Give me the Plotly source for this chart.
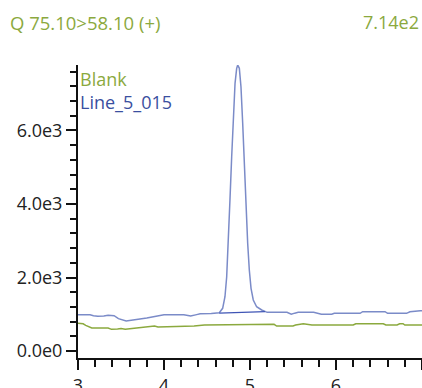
import plotly.graph_objects as go

# Sample trace (Line_5_015)
sample_t = [3.00, 3.14, 3.18, 3.23, 3.30, 3.35, 3.42, 3.47, 3.56, 3.62, 3.70, 3.80, 3.89, 3.95,
            4.00, 4.23, 4.27, 4.31, 4.38, 4.42, 4.55, 4.62, 4.643, 4.682, 4.709, 4.729, 4.748,
            4.767, 4.787, 4.806, 4.826, 4.845, 4.857, 4.876, 4.895, 4.915, 4.934, 4.953, 4.973,
            4.992, 5.012, 5.038, 5.077, 5.136, 5.174, 5.20, 5.43, 5.48, 5.52, 5.56, 5.74, 5.78,
            5.83, 5.95, 5.98, 6.28, 6.31, 6.57, 6.60, 6.82, 6.86, 6.98, 7.00]
sample_v = [988, 988, 960, 944, 950, 971, 960, 880, 816, 830, 863, 900, 944, 975,
            988, 988, 960, 950, 990, 1015, 1020, 1026, 1042, 1162, 1478, 2022, 2931,
            4109, 5287, 6468, 7284, 7692, 7782, 7692, 7192, 6196, 5015, 3926, 2931,
            2204, 1706, 1388, 1205, 1116, 1088, 1053, 1053, 999, 1030, 1053, 1053, 1020,
            999, 999, 1026, 1026, 1069, 1069, 1026, 1026, 1069, 1097, 1097]

# Integration baseline under the peak
base_t = [4.643, 5.174]
base_v = [1030, 1070]

# Blank trace
blank_t = [3.00, 3.06, 3.09, 3.16, 3.35, 3.39, 3.46, 3.50, 3.55, 3.70, 3.86, 3.89, 3.93, 4.05,
           4.31, 4.35, 4.47, 4.55, 4.86, 5.28, 5.31, 5.50, 5.53, 5.62, 5.72, 6.20, 6.23, 6.55,
           6.58, 6.71, 6.74, 6.78, 6.80, 7.00]
blank_v = [754, 740, 699, 626, 626, 590, 600, 610, 590, 626, 653, 680, 653, 661,
           665, 680, 707, 710, 727, 727, 680, 680, 707, 743, 707, 707, 743, 743,
           707, 707, 743, 743, 707, 707]

y_tickvals = [0, 2000, 4000, 6000]
y_ticktext = ["0.0e0", "2.0e3", "4.0e3", "6.0e3"]
x_tickvals = [3, 4, 5, 6, 7]

GREEN = "#8BA93E"
BLUE_TXT = "#3A4FA0"
BLUE_LINE = "#7B8BC8"
FONT = "Open Sans"

W, H = 422, 388
ML, MR, MT, MB = 78, 0, 65, 30
PW, PH = W - ML - MR, H - MT - MB

def px(x):
    return (x - ML) / PW

def py(y):
    return (H - MB - y) / PH

fig = go.Figure()
fig.add_trace(go.Scatter(x=blank_t, y=blank_v, mode="lines",
                         line=dict(color=GREEN, width=1.5), hoverinfo="skip"))
fig.add_trace(go.Scatter(x=sample_t, y=sample_v, mode="lines",
                         line=dict(color=BLUE_LINE, width=1.5), hoverinfo="skip"))
fig.add_trace(go.Scatter(x=base_t, y=base_v, mode="lines",
                         line=dict(color="#3F55B5", width=1.2), hoverinfo="skip"))

fig.update_layout(
    template="none",
    width=W, height=H, showlegend=False,
    margin=dict(l=ML, r=MR, t=MT, b=MB, pad=0),
    paper_bgcolor="white", plot_bgcolor="white",
    font=dict(family=FONT, size=18, color="#222222"),
    xaxis=dict(range=[3, 7], tickmode="array", tickvals=x_tickvals, automargin=False,
               ticks="outside", ticklen=10, tickwidth=2, tickcolor="#111111",
               showline=True, linewidth=2, linecolor="#111111",
               showgrid=False, zeroline=False,
               minor=dict(tickmode="linear", tick0=3, dtick=0.2, ticks="outside",
                          ticklen=7, tickwidth=2, tickcolor="#111111", showgrid=False),
               tickfont=dict(size=18)),
    yaxis=dict(range=[-190, 7782], tickmode="array", tickvals=y_tickvals, ticktext=y_ticktext,
               automargin=False,
               ticks="outside", ticklen=10, tickwidth=2, tickcolor="#111111",
               showline=True, linewidth=2, linecolor="#111111",
               showgrid=False, zeroline=False,
               minor=dict(tickmode="linear", tick0=0, dtick=400, ticks="outside",
                          ticklen=6, tickwidth=2, tickcolor="#111111", showgrid=False),
               tickfont=dict(size=18)),
)

anns = [
    dict(text="Q 75.10>58.10 (+)", x=px(8), y=py(22.5), xanchor="left", yanchor="middle",
         font=dict(color=GREEN, size=18.5, family=FONT)),
    dict(text="7.14e2", x=px(421), y=py(22.5), xanchor="right", yanchor="middle",
         font=dict(color=GREEN, size=18, family=FONT)),
    dict(text="Blank", x=px(78), y=py(79), xanchor="left", yanchor="middle",
         font=dict(color=GREEN, size=18, family=FONT)),
    dict(text="Line_5_015", x=px(78), y=py(101.7), xanchor="left", yanchor="middle",
         font=dict(color=BLUE_TXT, size=18, family=FONT)),
]
for a in anns:
    fig.add_annotation(xref="paper", yref="paper", showarrow=False, **a)

fig.write_html("out.html")
